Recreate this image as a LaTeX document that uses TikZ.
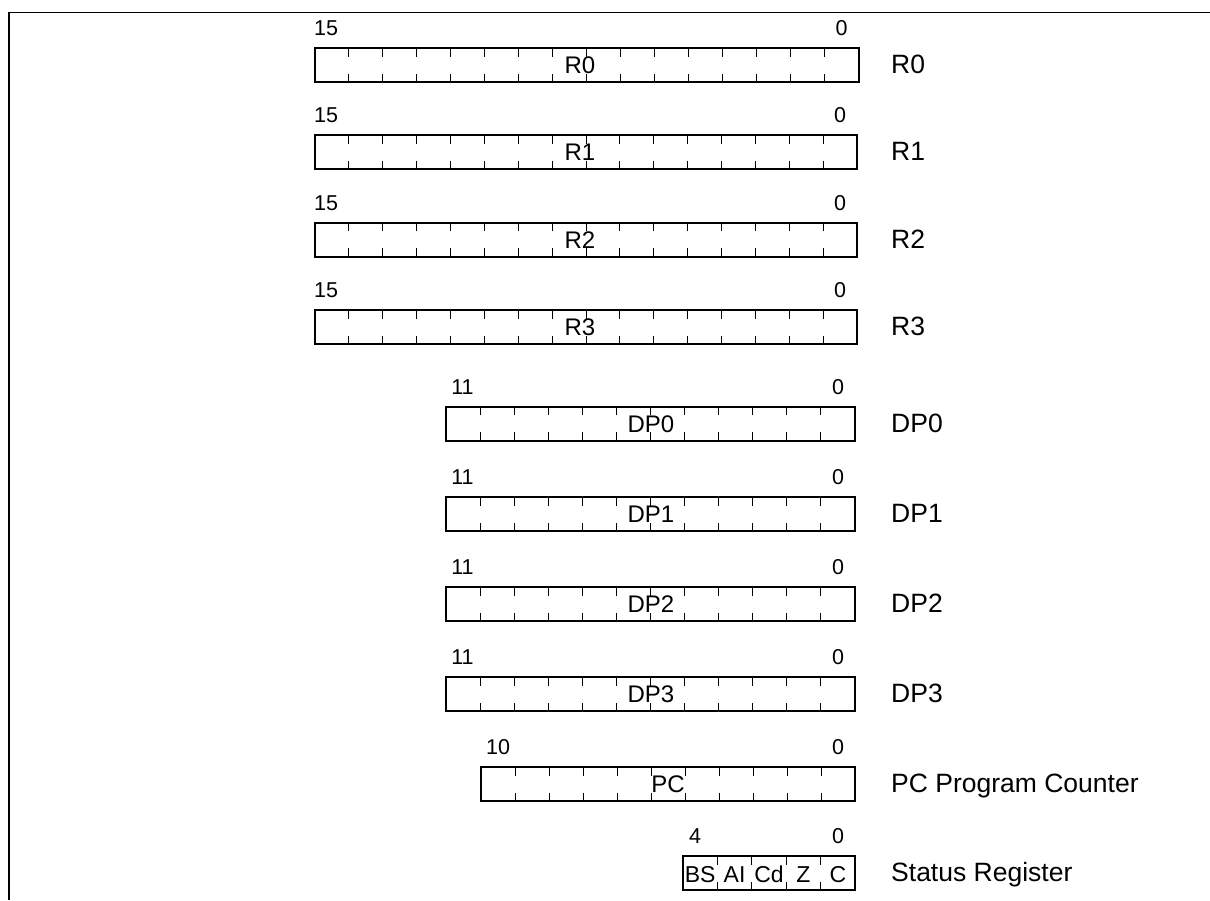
\documentclass[tikz,border=0pt]{standalone}
\usepackage{fontspec}
\setmainfont{Liberation Sans}
\usetikzlibrary{calc}
\tikzset{
  regbox/.style={draw, line width=2pt, inner sep=0pt, outer sep=0pt, anchor=north west},
  bittick/.style={line width=1pt},
  bitnum/.style={font=\fontsize{21.5}{25}\selectfont, anchor=base, inner sep=0pt},
  inlbl/.style={font=\fontsize{24}{28}\selectfont, anchor=base, inner sep=0pt},
  sidelbl/.style={font=\fontsize{26.5}{31}\selectfont, anchor=base west, inner sep=0pt},
  frameline/.style={line width=1.3pt},
}
\begin{document}
\begin{tikzpicture}[x=1pt,y=-1pt]
\useasboundingbox (0,0) rectangle (1210,900);
% frame
\coordinate (fl) at (9,900);
\coordinate (fc) at (9,12.5);
\coordinate (fr) at (1210,12.5);
\draw[frameline] (fl) -- (fc) -- (fr);
% registers: name / bits / left / right / top / inner label / label x / high bit / high x / side label
\foreach \nm/\n/\xl/\xr/\yt/\lbl/\lx/\hb/\hx/\side in {
  R0/16/315/858.5/48/R0/580/15/326/R0,
  R1/16/315/857/135.3/R1/580/15/326/R1,
  R2/16/315/857/222.6/R2/580/15/326/R2,
  R3/16/315/857/310/R3/580/15/326/R3,
  DP0/12/446/855/406.5/DP0/651/11/462.5/DP0,
  DP1/12/446/855/497/DP1/651/11/462.5/DP1,
  DP2/12/446/855/587/DP2/651/11/462.5/DP2,
  DP3/12/446/855/677/DP3/651/11/462.5/DP3,
  PC/11/481/855/767/PC/668/10/498/PC Program Counter}{
  \node[regbox, minimum width={\xr-\xl}, minimum height=34] (\nm) at (\xl,\yt) {};
  \pgfmathtruncatemacro\nmo{\n-1}
  \foreach \i in {1,...,\nmo}{
    \draw[bittick] ($(\nm.north west)!\i/\n!(\nm.north east)$) -- ++(0,8.5);
    \draw[bittick] ($(\nm.south west)!\i/\n!(\nm.south east)$) -- ++(0,-8.5);
  }
  \node[inlbl] (\nm-in) at (\lx,\yt+25.5) {\lbl};
  \node[bitnum] (\nm-hi) at (\hx,\yt-12.5) {\hb};
  \node[bitnum] (\nm-lo) at (\xr-17,\yt-12.5) {0};
  \node[sidelbl] (\nm-side) at (891,\yt+25.5) {\side};
}
% status register
\node[regbox, minimum width=172, minimum height=34] (SR) at (683,856) {};
\foreach \i in {1,...,4}{
  \draw[bittick] ($(SR.north west)!\i/5!(SR.north east)$) -- ++(0,8.5);
  \draw[bittick] ($(SR.south west)!\i/5!(SR.south east)$) -- ++(0,-8.5);
}
\foreach \t [count=\k from 0] in {BS,AI,Cd,Z,C}{
  \node[inlbl, font=\fontsize{23}{27}\selectfont] (SR-\k) at (683+17.2+\k*34.4,856+26) {\t};
}
\node[bitnum] (SR-hi) at (695,856-12.5) {4};
\node[bitnum] (SR-lo) at (838,856-12.5) {0};
\node[sidelbl] (SR-side) at (891,856+25.5) {Status Register};
\end{tikzpicture}
\end{document}
